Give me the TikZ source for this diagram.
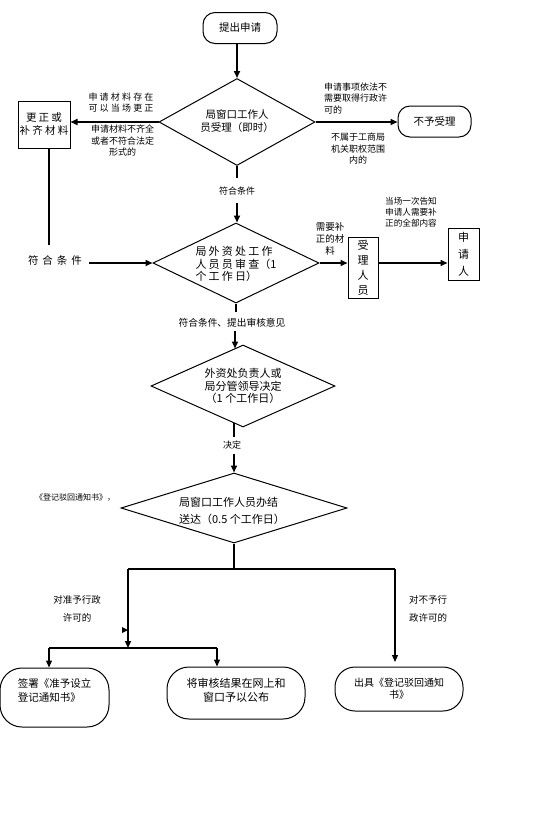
\documentclass[tikz,border=0pt]{standalone}
\usepackage{fontspec}
\setmainfont{Noto Sans CJK SC}
\usetikzlibrary{shapes.geometric,arrows.meta}
\newcommand\myks{\kern2.2pt}
\newcommand\myksw{\kern4pt}
\begin{document}
\begin{tikzpicture}[x=1pt,y=-1pt,
  every node/.style={font=\fontsize{10.5}{13}\selectfont, inner sep=0pt, align=center},
  term/.style={draw, line width=1pt, rounded corners=12pt, minimum width=74pt, minimum height=31pt},
  endbox/.style={draw, line width=1pt, rounded corners=22pt},
  boxx/.style={draw, line width=1pt},
  dia/.style={draw, line width=1pt, diamond, aspect=2},
  lab/.style={font=\fontsize{9}{11.5}\selectfont},
  slab/.style={font=\fontsize{8}{10}\selectfont},
  conn/.style={line width=1.7pt},
  thin/.style={line width=1.2pt},
  arr/.style={line width=1.7pt, -{Triangle[length=7pt,width=6pt]}},
  tarr/.style={line width=1.2pt, -{Triangle[length=7pt,width=6pt]}}
]
\useasboundingbox (0,0) rectangle (536,836);

% ---- top
\node[term] (start) at (240,28) {提出申请};
\node[dia, minimum width=156pt, minimum height=87pt] (d1) at (237,122) {};
\node (d1t) at (237,121.5) {局窗口工作人\\员受理（即时）};
\node[boxx, minimum width=52pt, minimum height=47pt] (fix) at (44,124.5) {更\myks 正\myks 或\\补\myks 齐\myks 材\myks 料};
\node[term, minimum width=73pt] (reject) at (434.5,121.5) {不予受理};

\draw[arr] (start.south -| d1.north) -- (d1.north);
\draw[arr] (d1.west) -- (d1.west -| fix.east);
\draw[arr] (d1.east) -- (d1.east -| reject.west);

\node[lab] (l1) at (121,102.5) {申\myks 请\myks 材\myks 料\myks 存\myks 在\\可\myks 以\myks 当\myks 场\myks 更\myks 正};
\node[lab] (l2) at (122.5,141) {申请材料不齐全\\或者不符合法定\\形式的};
\node[lab, align=left, anchor=west] (l3) at (324,98.5) {申请事项依法不\\需要取得行政许\\可的};
\node[lab] (l4) at (358,149) {不属于工商局\\机关职权范围\\内的};

% ---- second level
\coordinate (c1) at (237,178);
\draw[conn] (d1.south) -- (c1);
\node[lab] (ok1) at (237,191) {符合条件};
\coordinate (c2) at (237,203);
\node[dia, minimum width=166pt, minimum height=80pt] (d2) at (236,263) {};
\draw[arr] (c2) -- (c2 |- d2.north);
\node[align=left, font=\fontsize{11}{12.3}\selectfont] (d2t) at (236,264) {局\myks 外\myks 资\myks 处\myks 工\myks 作\\人\myks 员\myks 员\myks 审\myks 查（1\\个\myks 工\myks 作\myks 日）};

\coordinate (f1) at (49,245);
\draw[conn] (fix.south -| f1) -- (f1);
\node (ok2) at (55,260) {符\myksw 合\myksw 条\myksw 件};
\coordinate (f2) at (89,263);
\draw[arr] (f2) -- (d2.west);

\node[boxx, minimum width=30pt, minimum height=61pt, font=\fontsize{11}{15}\selectfont] (staff) at (363,267.5) {受\\理\\人\\员};
\node[boxx, minimum width=31pt, minimum height=52pt, font=\fontsize{11}{17}\selectfont] (appl) at (463.5,254) {申\\请\\人};
\draw[arr] (d2.east) -- (d2.east -| staff.west);
\draw[arr] (d2.east -| staff.east) -- (d2.east -| appl.west);
\node[lab, font=\fontsize{9.5}{12}\selectfont] (l5) at (330,239) {需要补\\正的材\\料};
\node[slab, font=\fontsize{8.6}{11}\selectfont] (l6) at (411,212) {当场一次告知\\申请人需要补\\正的全部内容};

% ---- third level
\coordinate (c3) at (236,312);
\draw[conn] (d2.south) -- (c3);
\node[lab, font=\fontsize{9.7}{12}\selectfont] (ok3) at (232,323) {符合条件、提出审核意见};
\coordinate (c4) at (235,331);
\coordinate (c5) at (235,348.5);
\draw[arr] (c4) -- (c5);
\node[dia, minimum width=184pt, minimum height=82pt] (d3) at (243,386) {};
\node[font=\fontsize{11}{12.8}\selectfont] (d3t) at (243,386) {外资处负责人或\\局分管领导决定\\（1 个工作日）};

% ---- fourth level
\coordinate (c6) at (234,423);
\coordinate (c7) at (234,437);
\draw[conn] (c6) -- (c7);
\node[lab] (dec) at (232,445) {决定};
\coordinate (c8) at (234,454);
\node[dia, minimum width=226pt, minimum height=70pt] (d4) at (234,508) {};
\draw[arr] (c8) -- (d4.north);
\node[align=left, font=\fontsize{11}{17}\selectfont] (d4t) at (232,510.5) {局窗口工作人员办结\\送达（0.5 个工作日）};
\node[slab] (note) at (75,498) {《登记驳回通知书》，};

% ---- bottom branches
\coordinate (b0) at (d4.south |- 0,569);
\coordinate (bl) at (128,569);
\coordinate (br) at (395,569);
\coordinate (bm) at (128,648);
\coordinate (bml) at (49,648);
\coordinate (bmr) at (217,648);
\coordinate (brend) at (395,662);
\draw[thin] (d4.south) -- (b0);
\draw[thin] (bl) -- (br);
\draw[tarr] (bl) -- (bm);
\draw[thin] (bml) -- (bmr);
\fill (122,627) -- (128,630) -- (122,633) -- cycle;

\node[endbox, minimum width=109pt, minimum height=59pt] (n1) at (54.5,697.5) {};
\node[endbox, minimum width=138pt, minimum height=52pt] (n2) at (236,693) {};
\node[endbox, rounded corners=20pt, minimum width=128pt, minimum height=44pt] (n3) at (399,689) {};
\draw[tarr] (bml) -- (bml |- n1.north);
\draw[tarr] (bmr) -- (bmr |- n2.north);
\draw[tarr] (br) -- (brend);

\node[align=left, font=\fontsize{10.5}{13.5}\selectfont] (n1t) at (54.5,690.5) {签署《准予设立\\登记通知书》};
\node[font=\fontsize{11}{14}\selectfont] (n2t) at (236,690) {将审核结果在网上和\\窗口予以公布};
\node[font=\fontsize{10}{12}\selectfont] (n3t) at (399,689) {出具《登记驳回通知\\书》};

\node[lab, font=\fontsize{9.5}{18}\selectfont] (l7) at (77,609) {对准予行政\\许可的};
\node[lab, font=\fontsize{9.5}{18}\selectfont] (l8) at (428,609) {对不予行\\政许可的};
\end{tikzpicture}
\end{document}
